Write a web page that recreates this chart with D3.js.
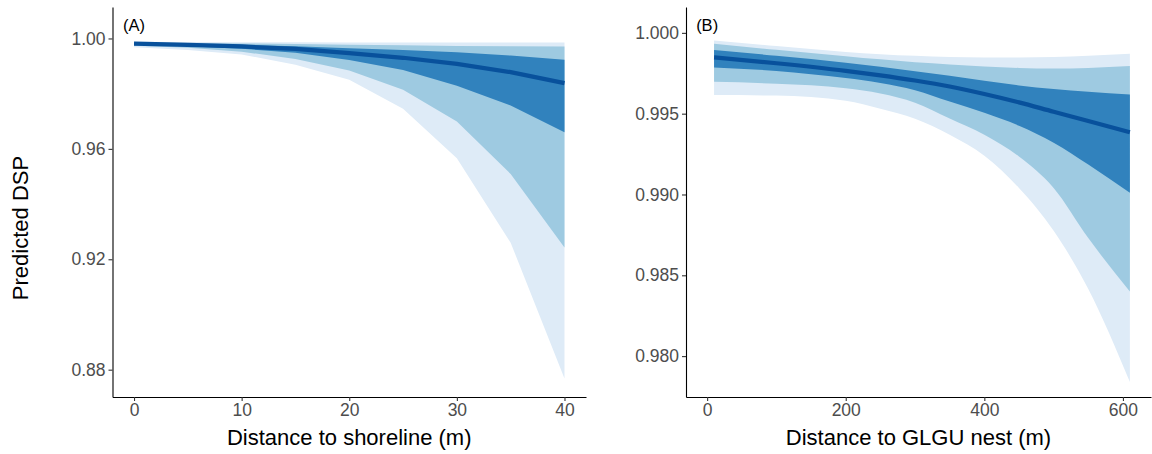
<!DOCTYPE html>
<html>
<head>
<meta charset="utf-8">
<script src="https://cdn.jsdelivr.net/npm/d3@7"></script>
<style>
  body { margin: 0; background: #fff; }
  svg { display: block; font-family: "Liberation Sans", Arial, sans-serif; }
</style>
</head>
<body>
<svg id="chart" width="1152" height="454"></svg>
<script>
(function(){
"use strict";

// (A) distance to shoreline
const shoreX     = [0, 5, 10, 15, 20, 25, 30, 35, 40];
const shoreMean  = [0.9981, 0.9977, 0.9971, 0.9962, 0.9947, 0.9930, 0.9908, 0.9878, 0.9838];
const shoreLo50  = [0.9978, 0.9972, 0.9963, 0.9948, 0.9922, 0.9886, 0.9829, 0.9757, 0.9660];
const shoreHi50  = [0.9984, 0.9981, 0.9977, 0.9972, 0.9965, 0.9958, 0.9950, 0.9938, 0.9923];
const shoreLo80  = [0.9974, 0.9966, 0.9952, 0.9926, 0.9884, 0.9814, 0.9699, 0.9509, 0.9243];
const shoreHi80  = [0.9986, 0.9984, 0.9982, 0.9980, 0.9977, 0.9975, 0.9973, 0.9972, 0.9971];
const shoreLo95  = [0.9968, 0.9958, 0.9942, 0.9905, 0.9850, 0.9745, 0.9566, 0.9260, 0.8768];
const shoreHi95  = [0.9988, 0.9987, 0.9986, 0.9986, 0.9985, 0.9985, 0.9985, 0.9985, 0.9985];
const shoreTicksX = [0, 10, 20, 30, 40];
const shoreTicksY = [0.88, 0.92, 0.96, 1.00];

// (B) distance to GLGU nest
const nestX     = [10, 100, 200, 250, 300, 350, 400, 450, 500, 550, 610];
const nestMean  = [0.99848, 0.99812, 0.99765, 0.99737, 0.99705, 0.99668, 0.99622, 0.99570, 0.99512, 0.99455, 0.99385];
const nestLo50  = [0.99786, 0.99764, 0.99720, 0.99690, 0.99645, 0.99575, 0.99505, 0.99425, 0.99320, 0.99185, 0.99010];
const nestHi50  = [0.99894, 0.99858, 0.99815, 0.99790, 0.99763, 0.99735, 0.99703, 0.99675, 0.99652, 0.99635, 0.99618];
const nestLo80  = [0.99697, 0.99685, 0.99657, 0.99625, 0.99568, 0.99470, 0.99370, 0.99235, 0.99040, 0.98730, 0.98400];
const nestHi80  = [0.99932, 0.99895, 0.99856, 0.99836, 0.99818, 0.99805, 0.99792, 0.99783, 0.99779, 0.99783, 0.99795];
const nestLo95  = [0.99615, 0.99612, 0.99580, 0.99530, 0.99468, 0.99370, 0.99240, 0.99040, 0.98775, 0.98415, 0.97840];
const nestHi95  = [0.99952, 0.99918, 0.99882, 0.99868, 0.99858, 0.99851, 0.99848, 0.99848, 0.99851, 0.99858, 0.99870];
const nestTicksX = [0, 200, 400, 600];
const nestTicksY = [0.980, 0.985, 0.990, 0.995, 1.000];

const bandColors = ["#deebf7", "#9ecae1", "#3182bd"];
const lineColor = "#08519c";

const svg = d3.select("#chart");

function drawPanel(p){
  let x = d3.scaleLinear().domain(p.xDomain).range(p.xRange);
  let y = d3.scaleLinear().domain(p.yDomain).range([397, 7]);
  let g = svg.append("g");

  let rows = p.xs.map((v, i) => ({x: v, i}));
  let bands = [[p.lo95, p.hi95], [p.lo80, p.hi80], [p.lo50, p.hi50]];
  bands.forEach(function(b, k){
    let area = d3.area()
      .x(d => x(d.x))
      .y0(d => y(b[0][d.i]))
      .y1(d => y(b[1][d.i]))
      .curve(p.curve);
    g.append("path").attr("d", area(rows)).attr("fill", bandColors[k]);
  });

  let line = d3.line().x(d => x(d.x)).y(d => y(p.mean[d.i])).curve(p.curve);
  g.append("path").attr("d", line(rows))
    .attr("fill", "none").attr("stroke", lineColor).attr("stroke-width", 4.2);

  g.append("text").attr("x", x(0)).attr("y", 31)
    .attr("text-anchor", "middle").attr("font-size", 16.5).attr("fill", "#000")
    .text(p.label);

  let xAxis = g.append("g").attr("transform", "translate(0,397)")
    .call(d3.axisBottom(x).tickValues(p.ticksX).tickSize(4).tickPadding(3).tickSizeOuter(0));
  let yAxis = g.append("g").attr("transform", "translate(" + p.xRange[0] + ",0)")
    .call(d3.axisLeft(y).tickValues(p.ticksY).tickFormat(d3.format(p.fmt)).tickSize(4).tickPadding(3).tickSizeOuter(0));
  [xAxis, yAxis].forEach(function(a){
    a.select(".domain").attr("stroke", "#000").attr("stroke-width", 1.1);
    a.selectAll(".tick line").attr("stroke", "#333").attr("stroke-width", 1.1);
    a.selectAll(".tick text").attr("fill", "#4d4d4d").attr("font-size", 17.5)
      .attr("font-family", "Liberation Sans, Arial, sans-serif");
  });

  g.append("text").attr("x", (p.xRange[0] + p.xRange[1]) / 2).attr("y", 445)
    .attr("text-anchor", "middle").attr("font-size", 22).attr("fill", "#000")
    .text(p.title);
}

drawPanel({
  xs: shoreX, mean: shoreMean,
  lo50: shoreLo50, hi50: shoreHi50, lo80: shoreLo80, hi80: shoreHi80, lo95: shoreLo95, hi95: shoreHi95,
  xDomain: [-2, 42], xRange: [112.5, 586],
  yDomain: [0.8701, 1.0114],
  ticksX: shoreTicksX, ticksY: shoreTicksY, fmt: ".2f",
  curve: d3.curveLinear, label: "(A)", title: "Distance to shoreline (m)"
});

drawPanel({
  xs: nestX, mean: nestMean,
  lo50: nestLo50, hi50: nestHi50, lo80: nestLo80, hi80: nestHi80, lo95: nestLo95, hi95: nestHi95,
  xDomain: [-30.5, 640.5], xRange: [686, 1151],
  yDomain: [0.97747, 1.0016],
  ticksX: nestTicksX, ticksY: nestTicksY, fmt: ".3f",
  curve: d3.curveMonotoneX, label: "(B)", title: "Distance to GLGU nest (m)"
});

svg.append("text")
  .attr("transform", "translate(28,228) rotate(-90)")
  .attr("text-anchor", "middle").attr("font-size", 22).attr("fill", "#000")
  .text("Predicted DSP");

})();
</script>
</body>
</html>
